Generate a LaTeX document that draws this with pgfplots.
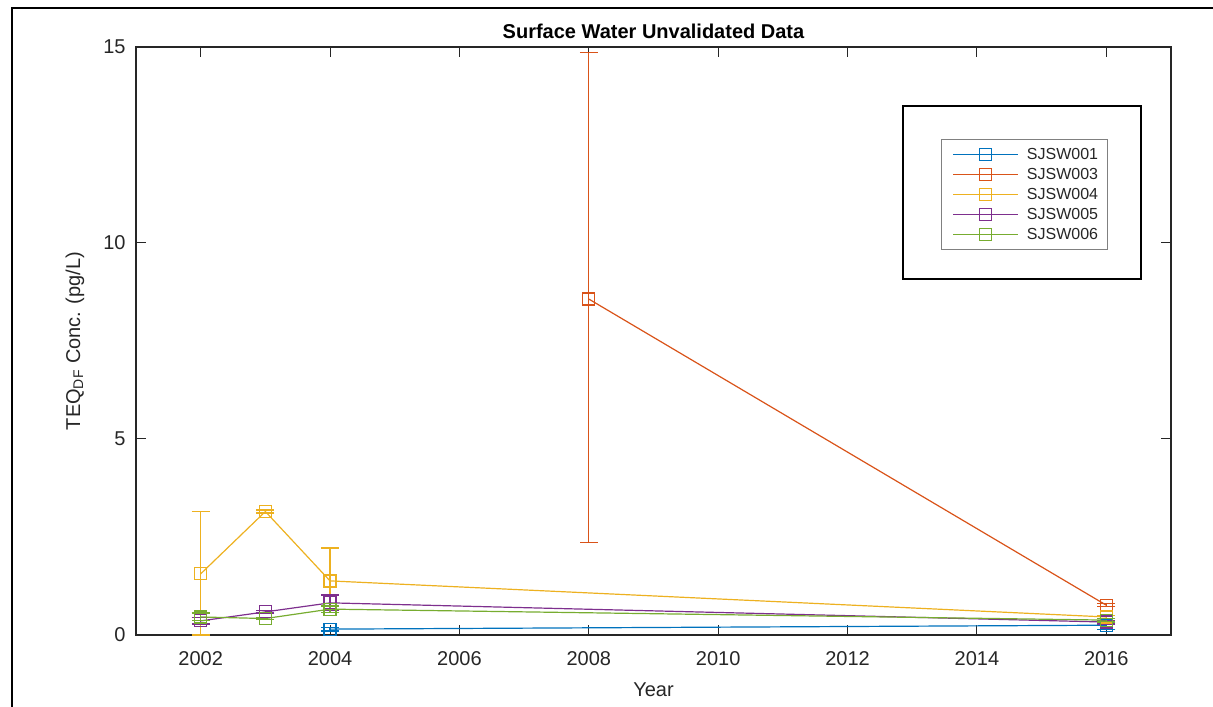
\documentclass[border=0pt]{standalone}
\usepackage{pgfplots}
\pgfplotsset{compat=1.18}
\usepackage{fontspec}
\setmainfont{Liberation Sans}
\definecolor{mblue}{RGB}{0,114,189}
\definecolor{mred}{RGB}{217,83,25}
\definecolor{myellow}{RGB}{237,177,32}
\definecolor{mpurple}{RGB}{126,47,142}
\definecolor{mgreen}{RGB}{119,172,48}
\definecolor{axgray}{RGB}{38,38,38}
\begin{document}
\begin{tikzpicture}
\useasboundingbox (0,0) rectangle (606.5pt,353pt);
\draw[line width=1.2pt] (6pt,-5pt) -- (6pt,349pt) -- (620pt,349pt);
\begin{axis}[
  at={(68pt,35.5pt)}, anchor=south west,
  scale only axis, width=517.5pt, height=294pt,
  xmin=2001, xmax=2017, ymin=0, ymax=15,
  xtick={2002,2004,...,2016}, ytick={0,5,10,15},
  /pgf/number format/assume math mode=true,
  /pgf/number format/1000 sep={},
  tick align=inside, major tick length=5pt,
  tick style={axgray, line width=0.5pt},
  axis line style={axgray, line width=0.6pt},
  font=\fontsize{10}{12}\selectfont,
  every tick label/.append style={text=axgray},
  xticklabel style={yshift=-4.5pt},
  yticklabel style={xshift=-1.7pt},
  title={\bfseries Surface Water Unvalidated Data},
  title style={at={(axis description cs:0.5,1)}, anchor=center, yshift=2pt, text=black},
  xlabel={Year},
  xlabel style={at={(axis description cs:0.5,0)}, anchor=center, yshift=-27.5pt, text=axgray},
  ylabel={TEQ\textsubscript{DF} Conc. (pg/L)},
  ylabel style={at={(axis description cs:-0.059,0.5)}, anchor=center, text=axgray},
  every axis plot/.append style={line width=0.6pt, mark=square, mark size=3pt, mark options={solid, line width=0.6pt}},
  error bars/y dir=both, error bars/y explicit,
  error bars/error mark options={rotate=90, mark size=4.5pt, line width=0.6pt},
  error bars/error bar style={line width=0.6pt},
  legend image code/.code={\path (0pt,0pt); \draw[#1] (3pt,0pt) -- (35.5pt,0pt); \draw[#1, mark repeat=1] plot coordinates {(19.25pt,0pt)}; \path (37.5pt,0pt);},
  legend cell align=left,
  legend style={at={(rel axis cs:0.778,0.8435)}, anchor=north west, draw=black!50, line width=0.5pt, fill=white,
    font=\fontsize{8}{9.6}\selectfont, text=axgray, inner xsep=2.5pt, inner ysep=2.5pt,
    nodes={text height=6pt, text depth=1.5pt, inner ysep=1.25pt}},
]
\draw[line width=1pt, fill=white] (rel axis cs:0.741,0.6054) rectangle (rel axis cs:0.971,0.8997);
\addplot[mblue, error bars/error bar style={mblue}] coordinates {
  (2004,0.15) += (0,0.05) -= (0,0.05)
  (2016,0.25) += (0,0.05) -= (0,0.10)
};
\addlegendentry{SJSW001}
\addplot[mred] coordinates {
  (2008,8.57) += (0,6.28) -= (0,6.22)
  (2016,0.76) += (0,0.04) -= (0,0.04)
};
\addlegendentry{SJSW003}
\addplot[myellow] coordinates {
  (2002,1.56) += (0,1.60) -= (0,1.56)
  (2003,3.15) += (0,0.04) -= (0,0.04)
  (2004,1.38) += (0,0.84) -= (0,0.75)
  (2016,0.46) += (0,0.04) -= (0,0.04)
};
\addlegendentry{SJSW004}
\addplot[mpurple] coordinates {
  (2002,0.36) += (0,0.08) -= (0,0.08)
  (2003,0.59) += (0,0.03) -= (0,0.03)
  (2004,0.82) += (0,0.20) -= (0,0.20)
  (2016,0.33) += (0,0.05) -= (0,0.05)
};
\addlegendentry{SJSW005}
\addplot[mgreen] coordinates {
  (2002,0.46) += (0,0.10) -= (0,0.10)
  (2003,0.42) += (0,0.02) -= (0,0.02)
  (2004,0.66) += (0,0.08) -= (0,0.08)
  (2016,0.38) += (0,0.05) -= (0,0.05)
};
\addlegendentry{SJSW006}
\end{axis}
\end{tikzpicture}
\end{document}
